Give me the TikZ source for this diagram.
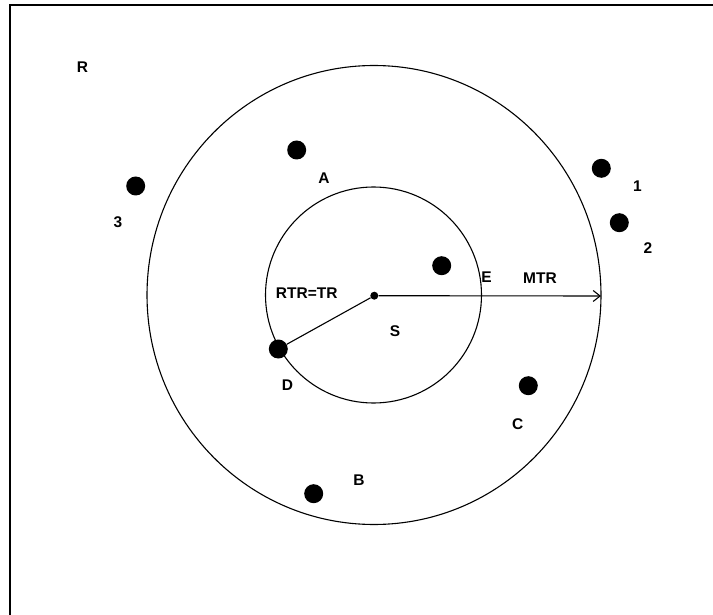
\documentclass[tikz,border=0pt]{standalone}
\usepackage{fontspec}
\setmainfont{Liberation Sans}
\usetikzlibrary{arrows.meta}
\begin{document}
\begin{tikzpicture}[x=1pt,y=-1pt,
  every node/.style={inner sep=0pt},
  site/.style={circle,fill=black,minimum size=19pt},
  hub/.style={circle,fill=black,minimum size=8pt},
  lbl/.style={font=\fontsize{15.5}{17}\selectfont\bfseries},
  ring/.style={line width=1.1pt},
  radius line/.style={line width=1.1pt}]
\useasboundingbox (0,0) rectangle (713,615);
% frame
\draw[line width=1.1pt] (10,615) -- (10,5) -- (713,5);
% outer and inner circles
\draw[ring] (374,295) ellipse [x radius=227, y radius=229.5];
\draw[ring] (373.5,295) circle [radius=108];
% centre and sites
\node[hub] (s) at (374.3,295.7) {};
\node[site] (a) at (296.7,150) {};
\node[site] (three) at (135.7,186) {};
\node[site] (one) at (601.3,168.3) {};
\node[site] (two) at (619.3,222.7) {};
\node[site] (e) at (441.7,265.7) {};
\node[site] (d) at (278.3,349) {};
\node[site] (c) at (528.3,385.7) {};
\node[site] (b) at (313.7,493.7) {};
\coordinate (mtrend) at (601,296);
% radii
\draw[radius line] (s) -- (d);
\draw[radius line,-{Straight Barb[length=7pt,width=11pt]}] (s) -- (mtrend);
% labels
\node[lbl] (lR) at (82.5,67) {R};
\node[lbl] (lA) at (324,178) {A};
\node[lbl] (l3) at (118,222.5) {3};
\node[lbl] (l1) at (637.5,186) {1};
\node[lbl] (l2) at (648,248) {2};
\node[lbl] (lE) at (486.5,277.5) {E};
\node[lbl] (lMTR) at (540,278) {MTR};
\node[lbl] (lRTR) at (306.7,293) {RTR=TR};
\node[lbl] (lS) at (395,331) {S};
\node[lbl] (lD) at (287.5,385.5) {D};
\node[lbl] (lC) at (517.7,424.5) {C};
\node[lbl] (lB) at (359,480) {B};
\end{tikzpicture}
\end{document}
